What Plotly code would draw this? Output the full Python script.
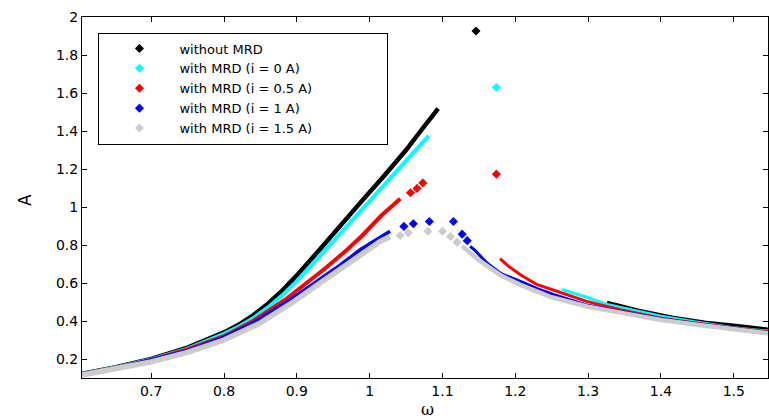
import plotly.graph_objects as go

# ---------------- data ----------------
names = ["without MRD", "with MRD (i = 0 A)", "with MRD (i = 0.5 A)",
         "with MRD (i = 1 A)", "with MRD (i = 1.5 A)"]
colors = ["#000000", "#00FFFF", "#FF0000", "#0000FF", "#CCCCCC"]

# without MRD (black)
black_low_x = [0.605, 0.65, 0.70, 0.75, 0.80, 0.82, 0.84, 0.86, 0.88, 0.90, 0.93, 0.96, 0.99, 1.02, 1.05, 1.07, 1.094]
black_low_y = [0.122, 0.155, 0.200, 0.260, 0.340, 0.380, 0.430, 0.490, 0.560, 0.640, 0.770, 0.905, 1.035, 1.165, 1.300, 1.400, 1.518]
black_jump_x = [1.146]
black_jump_y = [1.926]
black_high_x = [1.326, 1.37, 1.417, 1.46, 1.509, 1.547]
black_high_y = [0.498, 0.455, 0.419, 0.394, 0.374, 0.356]

# with MRD i = 0 A (cyan)
cyan_low_x = [0.605, 0.65, 0.70, 0.75, 0.80, 0.82, 0.84, 0.86, 0.88, 0.90, 0.93, 0.96, 0.99, 1.02, 1.05, 1.081]
cyan_low_y = [0.121, 0.154, 0.198, 0.255, 0.333, 0.370, 0.415, 0.470, 0.535, 0.610, 0.735, 0.862, 0.990, 1.120, 1.250, 1.374]
cyan_jump_x = [1.174]
cyan_jump_y = [1.629]
cyan_high_x = [1.264, 1.298, 1.326, 1.36, 1.40, 1.45, 1.50, 1.547]
cyan_high_y = [0.566, 0.525, 0.487, 0.458, 0.425, 0.393, 0.365, 0.347]

# with MRD i = 0.5 A (red)
red_low_x = [0.605, 0.65, 0.70, 0.75, 0.80, 0.84, 0.884, 0.914, 0.94, 0.969, 0.99, 1.015, 1.042]
red_low_y = [0.120, 0.152, 0.195, 0.250, 0.320, 0.400, 0.512, 0.600, 0.680, 0.775, 0.850, 0.951, 1.043]
red_jump_x = [1.056, 1.065, 1.073, 1.174]
red_jump_y = [1.075, 1.098, 1.126, 1.173]
red_high_x = [1.179, 1.19, 1.207, 1.23, 1.253, 1.298, 1.344, 1.40, 1.45, 1.50, 1.547]
red_high_y = [0.728, 0.690, 0.643, 0.591, 0.562, 0.503, 0.459, 0.415, 0.388, 0.363, 0.344]

# with MRD i = 1 A (blue)
blue_low_x = [0.605, 0.65, 0.70, 0.75, 0.80, 0.84, 0.891, 0.925, 0.957, 0.987, 1.01, 1.028]
blue_low_y = [0.120, 0.150, 0.195, 0.245, 0.315, 0.390, 0.512, 0.600, 0.687, 0.775, 0.830, 0.872]
blue_jump_x = [1.047, 1.060, 1.082, 1.115, 1.127, 1.134]
blue_jump_y = [0.898, 0.912, 0.924, 0.924, 0.857, 0.823]
blue_high_x = [1.138, 1.145, 1.161, 1.18, 1.207, 1.23, 1.253, 1.298, 1.344, 1.40, 1.45, 1.50, 1.547]
blue_high_y = [0.793, 0.770, 0.705, 0.650, 0.608, 0.570, 0.538, 0.485, 0.450, 0.412, 0.385, 0.360, 0.340]

# with MRD i = 1.5 A (gray)
gray_low_x = [0.605, 0.65, 0.70, 0.75, 0.80, 0.85, 0.895, 0.932, 0.965, 0.996, 1.015, 1.028]
gray_low_y = [0.115, 0.145, 0.185, 0.235, 0.300, 0.390, 0.500, 0.600, 0.690, 0.775, 0.820, 0.843]
gray_jump_x = [1.042, 1.053, 1.080, 1.100, 1.111, 1.120]
gray_jump_y = [0.850, 0.864, 0.872, 0.872, 0.845, 0.815]
gray_high_x = [1.127, 1.135, 1.15, 1.18, 1.207, 1.25, 1.30, 1.35, 1.40, 1.45, 1.50, 1.547]
gray_high_y = [0.795, 0.770, 0.720, 0.640, 0.590, 0.525, 0.475, 0.440, 0.405, 0.380, 0.355, 0.335]

x_ticks = [0.7, 0.8, 0.9, 1.0, 1.1, 1.2, 1.3, 1.4, 1.5]
x_tick_text = ["0.7", "0.8", "0.9", "1", "1.1", "1.2", "1.3", "1.4", "1.5"]
y_ticks = [0.2, 0.4, 0.6, 0.8, 1.0, 1.2, 1.4, 1.6, 1.8, 2.0]
y_tick_text = ["0.2", "0.4", "0.6", "0.8", "1", "1.2", "1.4", "1.6", "1.8", "2"]

series = [
    (black_low_x, black_low_y, black_jump_x, black_jump_y, black_high_x, black_high_y, 4.5),
    (cyan_low_x, cyan_low_y, cyan_jump_x, cyan_jump_y, cyan_high_x, cyan_high_y, 4),
    (red_low_x, red_low_y, red_jump_x, red_jump_y, red_high_x, red_high_y, 4),
    (blue_low_x, blue_low_y, blue_jump_x, blue_jump_y, blue_high_x, blue_high_y, 3.5),
    (gray_low_x, gray_low_y, gray_jump_x, gray_jump_y, gray_high_x, gray_high_y, 5.5),
]

# legend box in the reference is wider than its text: pad the longest entries invisibly
legend_pad = "\u00a0" * 17

fig = go.Figure()
for name, col, (lx, ly, jx, jy, hx, hy, lw) in zip(names, colors, series):
    for i, (sx, sy) in enumerate(((lx, ly), (hx, hy))):
        w = lw if i == 0 else max(lw - 1, 3)
        fig.add_trace(go.Scatter(
            x=sx, y=sy, mode="lines", showlegend=False,
            line=dict(color=col, width=w), hoverinfo="skip"))
    label = name + legend_pad if name in (names[2], names[4]) else name
    fig.add_trace(go.Scatter(
        x=jx, y=jy, mode="markers", name=label,
        marker=dict(symbol="diamond", size=7, color=col)))

axis_common = dict(showline=True, linecolor="black", linewidth=1, mirror="ticks",
                   ticks="inside", ticklen=5, tickcolor="black", showgrid=False,
                   zeroline=False, automargin=False,
                   tickfont=dict(family="DejaVu Sans", size=14, color="black"))

fig.update_xaxes(range=[0.605, 1.547], tickvals=x_ticks, ticktext=x_tick_text, **axis_common)
fig.update_yaxes(range=[0.1, 2.0], tickvals=y_ticks, ticktext=y_tick_text, **axis_common)

fig.add_annotation(text="ω", xref="paper", yref="paper", x=0.504, y=-0.088,
                   xanchor="center", yanchor="middle", showarrow=False,
                   font=dict(family="DejaVu Serif", size=16, color="black"))
fig.add_annotation(text="A", xref="paper", yref="paper", x=-0.083, y=0.493,
                   xanchor="center", yanchor="middle", showarrow=False, textangle=-90,
                   font=dict(family="DejaVu Sans", size=17, color="black"))

fig.update_layout(
    width=769, height=419,
    margin=dict(l=82, r=1, t=17, b=41),
    paper_bgcolor="white", plot_bgcolor="white",
    legend=dict(x=0.024, y=0.957, xanchor="left", yanchor="top",
                bgcolor="white", bordercolor="black", borderwidth=1,
                font=dict(family="DejaVu Sans", size=13, color="black"),
                itemwidth=70, itemsizing="trace", traceorder="normal",
                tracegroupgap=0),
)

fig.write_html("out.html", config={"displayModeBar": False},
               post_script="document.body.style.margin='0';document.body.style.overflow='hidden';")
